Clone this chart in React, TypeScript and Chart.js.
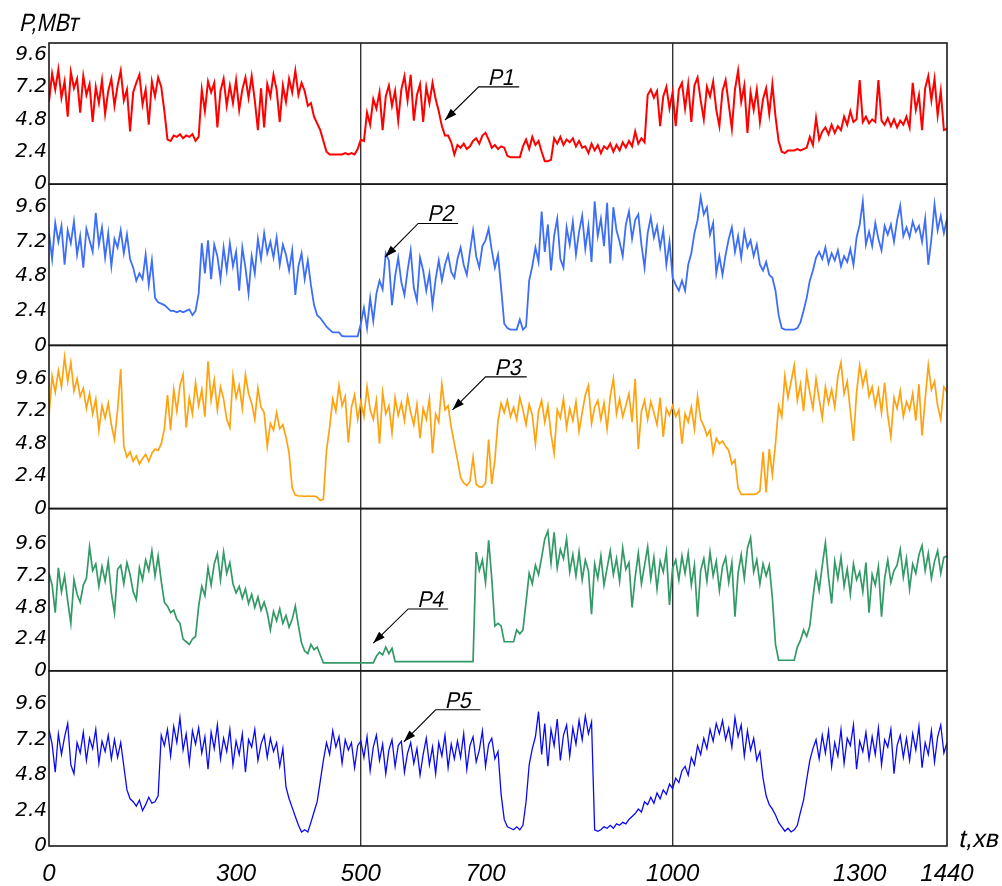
import React, { useEffect, useRef } from "react";
import { Chart, registerables } from "chart.js";

Chart.register(...registerables);

// time step of every series, minutes (values start at t = 0 and end at t = 1440)
const STEP_MIN = 5;
const X_TICKS = [0, 300, 500, 700, 1000, 1300, 1440];
const X_GRID = [500, 1000];
const Y_TICKS = [0, 2.4, 4.8, 7.2, 9.6];
const SERIES_NAMES = ["P1", "P2", "P3", "P4", "P5"];

// each row = one hour (12 x 5 min), last value at t = 1440
const P1 = [
  6.1, 8.2, 7.0, 8.5, 6.4, 7.6, 5.0, 8.3, 7.1, 7.8, 5.3, 8.0,
  6.6, 7.4, 4.6, 7.2, 6.0, 7.7, 5.2, 6.9, 7.8, 5.8, 7.3, 8.4,
  6.2, 7.0, 3.9, 6.8, 7.5, 8.1, 5.9, 7.0, 4.4, 7.6, 6.5, 7.9,
  7.2, 5.4, 3.3, 3.2, 3.6, 3.5, 3.7, 3.4, 3.6, 3.5, 3.7, 3.2,
  3.5, 7.0, 5.4, 7.6, 6.8, 7.5, 4.2, 6.9, 7.8, 5.8, 7.3, 6.0,
  7.7, 5.5, 7.0, 7.9, 6.4, 8.0, 6.2, 4.0, 7.1, 4.2, 7.4, 6.5,
  8.1, 7.0, 4.6, 7.3, 6.1, 7.8, 6.8, 8.4, 6.6, 7.5, 6.9, 5.8,
  6.0, 5.0, 4.5, 4.0, 3.2, 2.4, 2.2, 2.2, 2.2, 2.2, 2.2, 2.3,
  2.2, 2.3, 2.2, 2.6, 3.3, 3.2, 5.3, 4.4, 6.3, 5.6, 6.8, 4.0,
  6.5, 7.3, 5.8, 6.9, 4.7, 7.0, 8.0, 6.2, 8.1, 4.7, 6.6, 7.4,
  4.6, 7.2, 6.0, 7.5, 6.3, 5.4, 4.3, 3.6, 3.6, 3.1, 2.2, 2.9,
  2.7, 3.0, 2.6, 2.8, 3.2, 3.4, 3.0, 3.6, 3.8, 3.3, 2.7, 2.9,
  2.6, 2.8, 2.7, 2.1, 2.0, 2.0, 2.0, 2.0, 2.8, 3.3, 2.6, 3.5,
  2.9, 3.2, 2.4, 1.7, 1.7, 1.8, 3.4, 3.0, 3.5, 2.9, 3.3, 3.1,
  3.4, 2.8, 3.2, 2.7, 2.8, 2.3, 3.0, 2.5, 2.9, 2.3, 2.8, 2.6,
  3.0, 2.4, 2.9, 2.5, 3.1, 2.7, 3.2, 2.8, 3.9, 3.0, 3.4, 3.1,
  6.6, 7.0, 6.4, 6.9, 4.3, 6.5, 7.2, 5.6, 6.8, 4.3, 7.0, 7.5,
  5.6, 7.4, 4.6, 7.3, 7.9, 6.2, 4.8, 7.2, 6.5, 7.6, 5.5, 4.3,
  6.9, 7.7, 5.9, 4.1, 7.0, 8.4, 6.1, 7.3, 3.8, 6.8, 5.5, 7.0,
  4.6, 6.3, 7.1, 5.2, 7.4, 5.0, 3.2, 2.4, 2.3, 2.5, 2.5, 2.5,
  2.6, 2.5, 2.6, 2.7, 3.5, 2.9, 4.9, 3.3, 3.9, 4.2, 3.7, 4.4,
  3.8, 4.3, 4.0, 5.0, 4.4, 5.4, 4.6, 4.8, 7.7, 4.6, 5.0, 4.5,
  4.8, 4.6, 7.7, 4.7, 4.4, 4.9, 4.3, 4.8, 4.2, 4.7, 4.4, 5.0,
  4.2, 7.5, 5.5, 6.6, 4.0, 7.1, 8.0, 6.2, 7.8, 5.1, 6.9, 4.0,
  4.1,
];

const P2 = [
  7.8, 6.0, 8.5, 7.2, 8.3, 5.6, 8.0, 7.1, 8.6, 6.3, 7.6, 5.4,
  8.1, 7.3, 6.5, 9.2, 7.0, 8.2, 6.1, 7.8, 5.5, 7.4, 6.8, 8.0,
  6.4, 7.7, 6.0, 5.4, 4.5, 5.0, 4.6, 6.3, 4.2, 5.9, 3.3, 3.0,
  2.9, 2.8, 2.6, 2.4, 2.4, 2.3, 2.4, 2.3, 2.4, 2.5, 2.1, 2.4,
  3.6, 7.1, 5.0, 7.3, 4.6, 7.0, 6.2, 4.6, 6.8, 5.2, 7.1, 5.5,
  6.5, 3.8, 6.8, 5.4, 3.6, 6.2, 5.0, 7.4, 6.0, 7.8, 6.4, 7.2,
  6.1, 7.5, 5.6, 7.0, 6.3, 5.2, 6.6, 3.5, 5.5, 6.4, 4.6, 5.9,
  4.2, 2.8, 2.1, 1.9, 1.6, 1.3, 1.1, 0.9, 0.9, 0.9, 0.65, 0.63,
  0.63, 0.63, 0.63, 0.63, 1.5, 2.6, 1.2, 3.3, 1.7, 3.6, 4.5, 3.9,
  6.4, 5.9, 2.8, 4.8, 6.1, 4.4, 3.5, 5.2, 6.6, 4.0, 3.1, 6.1,
  5.2, 3.8, 5.0, 2.8, 4.6, 5.9, 4.5, 5.6, 6.3, 5.1, 4.7, 6.0,
  6.8, 5.6, 4.9, 6.5, 8.0, 6.2, 5.4, 6.9, 7.3, 8.1, 6.6, 5.4,
  6.3, 4.0, 1.5, 1.2, 1.1, 1.1, 1.1, 1.8, 1.1, 1.3, 4.5, 5.5,
  6.8, 5.8, 9.3, 6.5, 8.4, 5.2, 7.6, 8.8, 6.0, 5.4, 8.2, 7.0,
  8.6, 6.3, 7.9, 9.0, 6.7, 8.3, 5.8, 10.0, 7.6, 8.8, 6.9, 9.9,
  5.7, 9.6, 8.0, 7.2, 6.2, 8.4, 9.3, 7.4, 8.7, 9.1, 7.0, 5.4,
  7.8, 8.9, 7.5, 8.3, 6.8, 8.0, 5.6, 7.2, 4.7, 4.2, 3.8, 4.5,
  3.8, 5.6, 6.4, 7.8, 8.7, 10.3, 9.1, 9.6, 7.7, 8.5, 5.0, 6.2,
  4.9, 6.3, 7.4, 8.2, 6.5, 7.6, 6.1, 7.9, 6.8, 7.3, 6.2, 7.0,
  5.6, 5.2, 5.8, 4.9, 4.7, 3.8, 2.1, 1.2, 1.1, 1.1, 1.1, 1.1,
  1.2, 1.6, 2.4, 3.3, 4.5, 5.2, 6.1, 6.5, 6.0, 6.8, 5.7, 6.4,
  5.9, 6.6, 5.5, 6.2, 5.8, 6.7, 5.6, 7.5, 8.4, 10.0, 7.0, 7.9,
  6.9, 8.5, 7.4, 6.6, 8.3, 7.7, 8.4, 7.2, 8.7, 9.7, 7.6, 8.2,
  7.5, 8.6, 7.9, 8.3, 7.2, 8.8, 5.6, 7.4, 9.8, 8.0, 9.0, 7.8,
  8.8,
];

const P3 = [
  6.9, 9.8, 8.6, 10.2, 9.0, 11.2, 9.4, 10.8, 8.7, 9.6, 8.3, 8.9,
  7.4, 8.5, 7.0, 8.1, 5.8, 7.6, 6.7, 7.8, 6.2, 5.1, 7.3, 10.3,
  4.6, 3.8, 4.2, 3.5, 3.9, 3.3, 3.7, 4.0, 3.5, 4.1, 4.4, 4.3,
  4.8, 5.9, 8.4, 5.8, 8.8, 7.2, 9.1, 9.9, 6.0, 8.2, 7.0, 9.3,
  7.6, 8.8, 6.8, 10.9, 8.0, 9.5, 7.3, 9.0, 8.1, 6.6, 6.0, 9.8,
  8.2, 9.1, 7.4, 9.9, 8.5, 7.8, 6.6, 8.9, 7.5, 7.1, 4.6, 6.3,
  5.8, 7.1, 5.9, 6.2, 5.3, 4.1, 1.5, 1.0, 0.93, 0.93, 0.9, 0.93,
  0.9, 0.93, 0.85, 0.6, 0.7, 4.3, 6.0, 8.1, 7.2, 9.1, 7.6, 8.3,
  4.9, 7.5, 8.4, 6.6, 7.9, 6.8, 9.0, 7.3, 6.6, 8.0, 4.8, 8.6,
  7.0, 7.6, 5.6, 8.2, 6.9, 7.8, 6.5, 8.3, 7.1, 6.2, 7.7, 5.2,
  7.4, 6.6, 8.1, 4.1, 7.0, 6.4, 9.2, 7.3, 7.6, 6.0, 4.8, 3.6,
  2.3, 1.9, 1.7, 2.0, 3.8, 1.8, 1.6, 1.6, 1.9, 5.1, 1.8, 3.6,
  6.5, 7.8, 7.1, 8.0, 6.8, 7.5, 6.6, 8.2, 7.3, 6.2, 7.7, 6.9,
  4.8, 7.2, 8.0, 6.4, 7.6, 5.5, 4.1, 7.3, 6.7, 8.1, 6.0, 7.4,
  6.5, 7.9, 5.7, 7.1, 8.4, 9.1, 6.3, 7.5, 8.0, 6.6, 7.8, 5.9,
  8.3, 9.6, 7.0, 8.1, 6.8, 7.6, 8.5, 6.4, 9.6, 4.4, 7.2, 8.0,
  6.6, 7.9, 7.1, 6.2, 8.2, 5.3, 7.4, 6.9, 7.6, 6.8, 7.3, 4.8,
  7.0, 6.4, 7.5, 5.9, 8.3, 6.6, 6.1, 5.4, 5.8, 4.1, 5.2, 4.8,
  5.0, 4.6, 4.3, 3.3, 3.6, 1.5, 1.05, 1.05, 1.05, 1.05, 1.05, 1.1,
  1.3, 4.2, 1.2, 4.4, 2.5, 4.8, 7.6, 6.8, 9.8, 8.2, 9.4, 10.6,
  8.0, 9.2, 7.2, 10.0, 8.6, 7.4, 9.6, 8.1, 6.7, 9.0, 7.8, 8.8,
  7.5, 9.8, 10.8, 8.5, 9.4, 7.2, 5.0, 8.6, 10.6, 9.1, 10.1, 8.3,
  9.0, 7.6, 8.8, 7.1, 9.3, 6.9, 5.3, 8.2, 7.4, 8.7, 6.8, 7.9,
  7.3, 8.5, 6.5, 9.2, 5.4, 8.1, 10.6, 8.8, 9.4, 7.6, 6.6, 9.0,
  8.6,
];

const P4 = [
  7.4, 6.5, 4.4, 7.8, 6.0, 7.2, 5.3, 3.6, 6.9, 5.8, 5.2, 6.5,
  7.0, 9.4, 7.6, 8.1, 6.4, 7.9, 6.8, 8.3, 5.9, 4.4, 7.7, 8.0,
  6.6, 8.2, 7.3, 6.0, 5.4, 7.8, 6.9, 8.4, 7.6, 9.1, 7.2, 8.7,
  6.8, 5.2, 4.9, 4.4, 4.6, 3.9, 3.6, 2.4, 2.2, 2.0, 2.4, 2.6,
  4.9, 6.4, 5.7, 7.8, 6.5, 8.1, 8.9, 6.9, 9.0, 7.4, 8.2, 6.6,
  5.9, 6.4, 5.5, 6.2, 5.1, 5.8, 4.8, 5.6, 4.6, 5.2, 4.4, 3.1,
  4.5, 3.8, 4.7, 3.6, 4.2, 3.3, 3.9, 4.9, 3.4, 2.1, 1.5, 1.3,
  2.0, 1.6, 1.8, 1.2, 0.6, 0.6, 0.6, 0.6, 0.6, 0.6, 0.6, 0.6,
  0.6, 0.6, 0.6, 0.6, 0.6, 0.6, 0.6, 0.6, 0.6, 1.1, 1.4, 1.2,
  1.8, 1.3, 1.7, 0.7, 0.7, 0.7, 0.7, 0.7, 0.7, 0.7, 0.7, 0.7,
  0.7, 0.7, 0.7, 0.7, 0.7, 0.7, 0.7, 0.7, 0.7, 0.7, 0.7, 0.7,
  0.7, 0.7, 0.7, 0.7, 0.7, 9.0, 7.6, 8.4, 6.7, 9.9, 7.0, 3.4,
  3.6, 3.4, 2.2, 2.2, 2.2, 2.2, 3.1, 2.8, 3.1, 5.2, 7.4, 6.6,
  8.0, 7.3, 8.6, 10.0, 10.6, 8.2, 10.5, 7.8, 9.2, 8.5, 10.0, 7.5,
  8.8, 7.2, 9.0, 6.9, 8.4, 7.6, 4.3, 8.1, 7.0, 8.7, 6.5, 7.8,
  9.1, 7.3, 8.5, 6.8, 9.3, 7.7, 8.2, 4.8, 7.1, 8.9, 6.6, 8.0,
  9.4, 7.0, 8.6, 6.2, 8.3, 7.5, 9.0, 5.0, 7.8, 8.4, 6.9, 8.7,
  7.4, 8.9, 6.5, 8.0, 4.1, 7.6, 8.5, 6.8, 9.0, 7.2, 8.3, 6.1,
  7.9, 8.6, 6.7, 8.2, 4.1, 7.4, 8.8, 7.0, 9.3, 10.1, 7.5, 8.4,
  6.6, 8.1, 7.2, 8.0, 5.5, 2.0, 0.8, 0.8, 0.8, 0.8, 0.8, 0.8,
  1.8, 2.3, 3.1, 2.6, 3.4, 5.5, 7.4, 6.1, 8.0, 9.7, 7.1, 5.1,
  8.3, 7.0, 8.6, 6.4, 7.7, 5.8, 8.1, 6.9, 7.5, 6.0, 8.2, 4.4,
  7.3, 6.5, 7.9, 4.1, 7.0, 8.4, 6.7, 7.6, 8.0, 9.2, 7.1, 8.5,
  6.2, 8.1, 7.4, 8.8, 9.5, 7.6, 8.9, 7.0, 8.3, 9.1, 7.4, 8.6,
  8.7,
];

const P5 = [
  7.9, 6.9, 5.0, 7.6, 6.2, 7.4, 8.3, 5.5, 4.9, 7.0, 6.3, 7.7,
  5.8, 7.3, 6.6, 7.9, 5.6, 7.1, 6.4, 7.5, 5.9, 7.2, 6.0, 7.0,
  5.4, 3.8, 3.2, 3.0, 2.7, 3.1, 2.4, 2.8, 3.3, 2.9, 3.0, 3.4,
  7.5, 6.8, 7.9, 6.1, 8.1, 7.0, 8.7, 6.5, 7.6, 5.6, 7.8, 6.9,
  8.0, 6.3, 7.4, 5.2, 7.7, 6.6, 8.2, 5.9, 7.3, 6.4, 7.9, 5.5,
  7.1, 6.2, 7.6, 5.0, 7.2, 6.7, 7.9, 5.8, 6.9, 7.5, 6.0, 7.3,
  6.4, 7.0, 5.4, 6.6, 4.0, 3.2, 2.6, 2.0, 1.4, 0.95, 1.1, 0.95,
  1.6, 2.3, 3.0, 4.4, 5.8, 7.0, 6.2, 7.8, 6.7, 7.4, 5.6, 7.2,
  6.5, 7.0, 5.3, 6.8, 7.1, 6.0, 7.4, 5.1, 6.7, 7.5, 5.8, 6.9,
  4.9, 6.5, 7.2, 5.4, 6.8, 7.1, 5.0, 6.3, 7.0, 5.6, 6.6, 4.8,
  6.2, 7.3, 5.5, 6.7, 4.9, 7.0, 6.1, 7.5, 5.3, 6.9, 5.9, 7.1,
  6.0, 7.6, 5.2, 6.8, 7.4, 5.7, 6.5, 7.8, 5.4, 6.9, 7.3, 5.9,
  6.4, 3.5, 1.8, 1.3, 1.2, 1.1, 1.3, 1.1, 1.4, 3.0, 5.5, 6.6,
  7.4, 9.1, 6.2, 8.3, 5.4, 7.9, 6.8, 8.6, 5.8, 7.5, 8.2, 6.1,
  8.0, 6.9, 8.5, 7.2, 8.8, 7.6, 8.4, 1.1, 1.0, 1.1, 1.3, 1.2,
  1.4, 1.2, 1.5, 1.4, 1.6, 1.5, 1.8, 2.0, 2.2, 2.5, 2.3, 3.0,
  2.8, 3.3, 2.9, 3.6, 3.2, 3.8, 3.5, 4.2, 3.9, 4.6, 4.3, 5.1,
  5.4, 4.8, 6.0, 5.5, 6.8, 6.2, 7.3, 6.6, 7.9, 7.1, 8.3, 7.6,
  8.5, 7.2, 8.0, 6.7, 8.7, 7.4, 8.2, 6.1, 7.8, 6.5, 7.3, 5.8,
  6.4, 4.6, 3.4, 2.8, 2.5, 2.1, 1.6, 1.3, 1.0, 1.2, 0.95, 1.1,
  1.4, 2.3, 3.1, 4.5, 5.8, 6.6, 7.2, 5.9, 7.5, 6.3, 7.8, 5.4,
  7.0, 6.1, 7.9, 5.6, 7.3, 6.8, 8.2, 5.2, 7.1, 6.4, 7.7, 5.9,
  7.4, 6.2, 8.0, 5.5, 7.2, 6.7, 7.9, 4.9, 6.8, 7.5, 6.0, 7.3,
  5.8, 7.6, 6.5, 8.1, 5.3, 7.0, 6.2, 7.8, 5.7, 7.4, 8.2, 6.3,
  7.0,
];

const SERIES = [P1, P2, P3, P4, P5];

// per-panel axis maximum and relative panel height
const PANEL_MAX = [10.45, 11.2, 12.07, 12.3, 11.87];
const PANEL_WEIGHT = [141, 161, 163, 162, 175];
const COLORS = ["#ff0000", "#3d6ef6", "#ffa20f", "#339966", "#0a0af2"];
const LINE_WIDTHS = [2, 1.8, 1.7, 1.7, 1.3];

// leader-line annotations in data units (t, value on the series' own axis)
const NOTE_LINE_T0 = [689, 592, 700, 576, 620];
const NOTE_LINE_T1 = [754, 656, 766, 640, 692];
const NOTE_LINE_V = [7.2, 8.47, 9.74, 4.69, 9.23];
const NOTE_TIP_T = [635, 539, 647, 520, 569];
const NOTE_TIP_V = [4.75, 6.14, 7.3, 2.1, 7.06];

const FONT_FAMILY = "'Liberation Sans', Arial, Helvetica, sans-serif";
const Y_FONT_FAMILY = "'DejaVu Sans', 'Liberation Sans', sans-serif";

function drawOblique(ctx: CanvasRenderingContext2D, text: string, x: number, y: number, sx: number) {
  ctx.save();
  ctx.translate(x, y);
  ctx.transform(sx, 0, -0.22, 1, 0, 0);
  ctx.fillText(text, 0, 0);
  ctx.restore();
}

export default function App() {
  const canvasRef = useRef<HTMLCanvasElement | null>(null);

  useEffect(() => {
    const canvas = canvasRef.current;
    if (!canvas) return;

    const datasets = SERIES.map((vals, k) => ({
      label: SERIES_NAMES[k],
      data: vals.map((v, i) => ({ x: i * STEP_MIN, y: v })),
      yAxisID: "y" + (k + 1),
      borderColor: COLORS[k],
      backgroundColor: COLORS[k],
      borderWidth: LINE_WIDTHS[k],
      pointRadius: 0,
      tension: 0,
      fill: false,
    }));

    const scales: any = {
      x: {
        type: "linear",
        min: 0,
        max: 1440,
        afterBuildTicks: (s: any) => {
          s.ticks = X_TICKS.map((v) => ({ value: v }));
        },
        afterFit: (s: any) => {
          s.height = 40;
        },
        grid: {
          drawTicks: false,
          lineWidth: 1.4,
          color: (ctx: any) =>
            ctx.tick && X_GRID.includes(ctx.tick.value) ? "#333333" : "rgba(0,0,0,0)",
        },
        border: { display: false },
        ticks: {
          autoSkip: false,
          maxRotation: 0,
          padding: 14,
          color: "#000",
          font: { family: FONT_FAMILY, size: 24, style: "italic" },
          callback: (v: any) => String(v),
        },
      },
    };

    SERIES.forEach((_, k) => {
      scales["y" + (k + 1)] = {
        type: "linear",
        position: "left",
        stack: "panels",
        stackWeight: PANEL_WEIGHT[k],
        weight: 10 - k,
        min: 0,
        max: PANEL_MAX[k],
        afterBuildTicks: (s: any) => {
          s.ticks = Y_TICKS.map((v) => ({ value: v }));
        },
        afterFit: (s: any) => {
          s.width = 49;
        },
        grid: { display: false, drawTicks: false },
        border: { display: false },
        ticks: {
          autoSkip: false,
          padding: 2,
          color: "#000",
          font: { family: Y_FONT_FAMILY, size: 20, style: "italic" },
          callback: (v: any) => String(v),
        },
      };
    });

    const overlay = {
      id: "overlay",
      afterDraw(chart: any) {
        const { ctx, chartArea } = chart;
        const xs = chart.scales.x;
        ctx.save();
        // panel frames
        ctx.strokeStyle = "#1a1a1a";
        ctx.lineWidth = 1.6;
        SERIES.forEach((_, k) => {
          const ys = chart.scales["y" + (k + 1)];
          ctx.strokeRect(
            chartArea.left,
            ys.top,
            chartArea.right - chartArea.left,
            ys.bottom - ys.top
          );
        });

        // leader annotations
        ctx.fillStyle = "#000";
        ctx.strokeStyle = "#000";
        ctx.lineWidth = 1.1;
        ctx.font = `400 23px ${FONT_FAMILY}`;
        ctx.textAlign = "left";
        ctx.textBaseline = "alphabetic";
        SERIES_NAMES.forEach((name, k) => {
          const ys = chart.scales["y" + (k + 1)];
          const x0 = xs.getPixelForValue(NOTE_LINE_T0[k]);
          const x1 = xs.getPixelForValue(NOTE_LINE_T1[k]);
          const y0 = ys.getPixelForValue(NOTE_LINE_V[k]);
          const xt = xs.getPixelForValue(NOTE_TIP_T[k]);
          const yt = ys.getPixelForValue(NOTE_TIP_V[k]);
          ctx.beginPath();
          ctx.moveTo(x1, y0);
          ctx.lineTo(x0, y0);
          ctx.lineTo(xt, yt);
          ctx.stroke();
          const a = Math.atan2(yt - y0, xt - x0);
          const len = 12;
          const w = 4;
          const bx = xt - len * Math.cos(a);
          const by = yt - len * Math.sin(a);
          ctx.beginPath();
          ctx.moveTo(xt, yt);
          ctx.lineTo(bx + w * Math.sin(a), by - w * Math.cos(a));
          ctx.lineTo(bx - w * Math.sin(a), by + w * Math.cos(a));
          ctx.closePath();
          ctx.fill();
          drawOblique(ctx, name, x0 + 9, y0 - 2, 0.92);
        });

        // axis titles (synthetic oblique keeps the upright Cyrillic letter shapes)
        ctx.font = `400 25px ${FONT_FAMILY}`;
        drawOblique(ctx, "P,МВт", 19, 31, 0.86);
        ctx.font = `400 25px ${FONT_FAMILY}`;
        drawOblique(ctx, "t,хв", 958, 847, 1.0);
        ctx.restore();
      },
    };

    const chart = new Chart(canvas, {
      type: "line",
      data: { datasets },
      options: {
        animation: false,
        responsive: false,
        devicePixelRatio: 1,
        layout: { padding: { top: 43, right: 55, left: 0, bottom: 0 } },
        plugins: { legend: { display: false }, tooltip: { enabled: false } },
        events: [],
        scales,
      } as any,
      plugins: [overlay],
    });

    return () => chart.destroy();
  }, []);

  return (
    <div
      style={{
        position: "fixed",
        left: 0,
        top: 0,
        width: 1002,
        height: 886,
        background: "#fff",
      }}
    >
      <canvas ref={canvasRef} width={1002} height={886} />
    </div>
  );
}
